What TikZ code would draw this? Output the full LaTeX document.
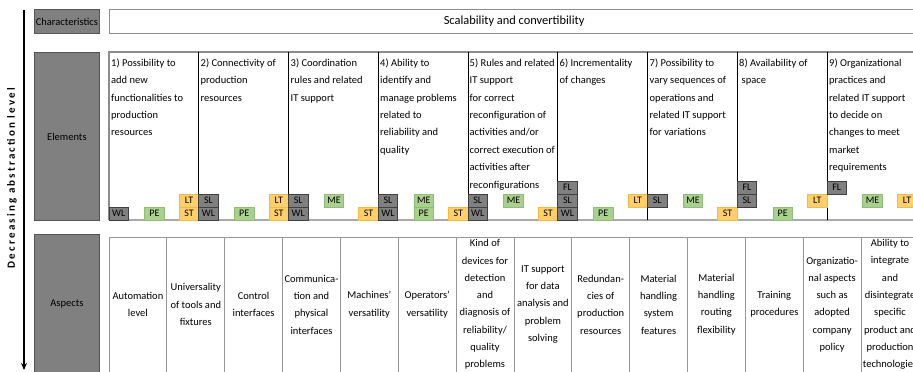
\documentclass[tikz,border=0pt]{standalone}
\usepackage{fontspec}
\setmainfont{Carlito}
\usetikzlibrary{arrows.meta}

\definecolor{lblfill}{RGB}{128,128,128}
\definecolor{lbledge}{RGB}{85,85,85}
\definecolor{boxedge}{RGB}{140,140,140}
\definecolor{gridgray}{RGB}{150,150,150}
\definecolor{basegray}{RGB}{170,170,170}
\definecolor{gfill}{RGB}{128,128,128}
\definecolor{gedge}{RGB}{64,64,64}
\definecolor{ofill}{RGB}{255,208,105}
\definecolor{oedge}{RGB}{245,185,70}
\definecolor{pfill}{RGB}{169,208,142}
\definecolor{pedge}{RGB}{140,190,115}

\tikzset{
  lbl/.style={draw=lbledge, fill=lblfill, line width=0.8pt, inner sep=0pt,
    anchor=north west, minimum width=65pt, font=\fontsize{10.5}{12}\selectfont},
  elem/.style={anchor=north west, align=left, inner sep=0pt,
    font=\fontsize{10.5}{17.4}\selectfont},
  asp/.style={align=center, inner sep=0pt, font=\fontsize{10.5}{17.3}\selectfont},
  badge/.style={draw, line width=0.6pt, minimum width=19.5pt, minimum height=13pt,
    inner sep=0pt, font=\fontsize{10}{10}\selectfont},
  gbadge/.style={badge, fill=gfill, draw=gedge},
  obadge/.style={badge, fill=ofill, draw=oedge},
  pbadge/.style={badge, fill=pfill, draw=pedge},
}

\begin{document}
\begin{tikzpicture}[x=1pt,y=-1pt]
  \useasboundingbox (0,0) rectangle (913,372);
  \clip (0,0) rectangle (913,372);

  % abstraction arrow
  \coordinate (T) at (24,10);
  \coordinate (B) at (24,370);
  \draw[line width=1.4pt, -{Stealth[length=7pt,width=6pt]}] (T) -- (B);
  \node[rotate=90, font=\bfseries\fontsize{11}{12}\selectfont\addfontfeature{LetterSpace=20}] (D) at (12,178) {Decreasing abstraction level};

  % level labels
  \node[lbl, minimum height=24pt] (C) at (34,9) {Characteristics};
  \node[lbl, minimum height=168pt] (E) at (34,52) {Elements};
  \node[lbl, minimum height=140pt] (A) at (34,234) {Aspects};

  % characteristics
  \node[draw=boxedge, line width=1.2pt, anchor=north west, minimum width=809pt, minimum height=24pt,
    font=\fontsize{12.4}{14}\selectfont] (S) at (109,9) {Scalability and convertibility};

  % elements frame
  \draw[boxedge, line width=1.2pt] (918,52) -- (109,52) -- (109,220);
  \draw[basegray, line width=1.6pt] (109,220) -- (918,220);
  \draw[black, line width=0.8pt] (198.75,52) -- (198.75,220);
  \draw[black, line width=0.8pt] (288.5,52) -- (288.5,220);
  \draw[black, line width=0.8pt] (378.25,52) -- (378.25,220);
  \draw[black, line width=0.8pt] (468,52) -- (468,220);
  \draw[black, line width=0.8pt] (557.75,52) -- (557.75,220);
  \draw[black, line width=0.8pt] (647.5,52) -- (647.5,220);
  \draw[black, line width=0.8pt] (737.25,52) -- (737.25,220);
  \draw[black, line width=0.8pt] (827,52) -- (827,220);

  \node[elem] (E1) at (111,58.5) {1) Possibility to\\add new\\functionalities to\\production\\resources};
  \node[elem] (E2) at (200.5,58.5) {2) Connectivity of\\production\\resources};
  \node[elem] (E3) at (290.5,58.5) {3) Coordination\\rules and related\\IT support};
  \node[elem] (E4) at (380,58.5) {4) Ability to\\identify and\\manage problems\\related to\\reliability and\\quality};
  \node[elem] (E5) at (469.5,58.5) {5) Rules and related\\IT support\\for correct\\reconfiguration of\\activities and/or\\correct execution of\\activities after\\reconfigurations};
  \node[elem] (E6) at (559.5,58.5) {6) Incrementality\\of changes};
  \node[elem] (E7) at (649.5,58.5) {7) Possibility to\\vary sequences of\\operations and\\related IT support\\for variations};
  \node[elem] (E8) at (739,58.5) {8) Availability of\\\hspace{2.5pt}space};
  \node[elem] (E9) at (829,58.5) {9) Organizational\\practices and\\related IT support\\to decide on\\changes to meet\\market\\requirements};

  % badges
  \node[gbadge] (W1) at (118.75,213.5) {WL};
  \node[pbadge] (P1) at (154.5,213.5) {PE};
  \node[obadge] (T1) at (189,213.5) {ST};
  \node[obadge] (L1) at (189,200.5) {LT};

  \node[gbadge] (W2) at (208.5,213.5) {WL};
  \node[gbadge] (S2) at (208.5,200.5) {SL};
  \node[pbadge] (P2) at (244.25,213.5) {PE};
  \node[obadge] (T2) at (278.75,213.5) {ST};
  \node[obadge] (L2) at (278.75,200.5) {LT};

  \node[gbadge] (W3) at (298.25,213.5) {WL};
  \node[gbadge] (S3) at (298.25,200.5) {SL};
  \node[pbadge] (M3) at (334,200.5) {ME};
  \node[obadge] (T3) at (368.5,213.5) {ST};

  \node[gbadge] (W4) at (388,213.5) {WL};
  \node[gbadge] (S4) at (388,200.5) {SL};
  \node[pbadge] (P4) at (423.75,213.5) {PE};
  \node[pbadge] (M4) at (423.75,200.5) {ME};
  \node[obadge] (T4) at (458.25,213.5) {ST};

  \node[gbadge] (W5) at (477.75,213.5) {WL};
  \node[gbadge] (S5) at (477.75,200.5) {SL};
  \node[pbadge] (M5) at (513.5,200.5) {ME};
  \node[obadge] (T5) at (548,213.5) {ST};

  \node[gbadge] (W6) at (567.5,213.5) {WL};
  \node[gbadge] (S6) at (567.5,200.5) {SL};
  \node[gbadge] (F6) at (567.5,187.5) {FL};
  \node[pbadge] (P6) at (603.25,213.5) {PE};
  \node[obadge] (L6) at (637.75,200.5) {LT};

  \node[gbadge] (S7) at (657.25,200.5) {SL};
  \node[pbadge] (M7) at (693,200.5) {ME};
  \node[obadge] (T7) at (727.5,213.5) {ST};

  \node[gbadge] (S8) at (747,200.5) {SL};
  \node[gbadge] (F8) at (747,187.5) {FL};
  \node[pbadge] (P8) at (782.75,213.5) {PE};
  \node[obadge] (L8) at (817.25,200.5) {LT};

  \node[gbadge] (F9) at (836.75,187.5) {FL};
  \node[pbadge] (M9) at (872.5,200.5) {ME};
  \node[obadge] (L9) at (907,200.5) {LT};

  % aspects grid
  \draw[gridgray, line width=0.8pt] (918,237) -- (109,237) -- (109,380);
  \draw[gridgray, line width=0.8pt] (166.85,237) -- (166.85,380);
  \draw[gridgray, line width=0.8pt] (224.7,237) -- (224.7,380);
  \draw[gridgray, line width=0.8pt] (282.55,237) -- (282.55,380);
  \draw[gridgray, line width=0.8pt] (340.4,237) -- (340.4,380);
  \draw[gridgray, line width=0.8pt] (398.25,237) -- (398.25,380);
  \draw[gridgray, line width=0.8pt] (456.1,237) -- (456.1,380);
  \draw[gridgray, line width=0.8pt] (513.95,237) -- (513.95,380);
  \draw[gridgray, line width=0.8pt] (571.8,237) -- (571.8,380);
  \draw[gridgray, line width=0.8pt] (629.65,237) -- (629.65,380);
  \draw[gridgray, line width=0.8pt] (687.5,237) -- (687.5,380);
  \draw[gridgray, line width=0.8pt] (745.35,237) -- (745.35,380);
  \draw[gridgray, line width=0.8pt] (803.2,237) -- (803.2,380);
  \draw[gridgray, line width=0.8pt] (861.05,237) -- (861.05,380);

  \node[asp] (A1) at (137.9,304.5) {Automation\\level};
  \node[asp] (A2) at (195.8,304.5) {Universality\\of tools and\\fixtures};
  \node[asp] (A3) at (253.6,304.5) {Control\\interfaces};
  \node[asp] (A4) at (311.5,304.5) {Communica-\\tion and\\physical\\interfaces};
  \node[asp] (A5) at (369.3,304.5) {Machines'\\versatility};
  \node[asp] (A6) at (427.2,304.5) {Operators'\\versatility};
  \node[asp] (A7) at (485.0,304.5) {Kind of\\devices for\\detection\\and\\diagnosis of\\reliability/\\quality\\problems};
  \node[asp] (A8) at (542.9,304.5) {IT support\\for data\\analysis and\\problem\\solving};
  \node[asp] (A9) at (600.7,304.5) {Redundan-\\cies of\\production\\resources};
  \node[asp] (A10) at (658.6,304.5) {Material\\handling\\system\\features};
  \node[asp] (A11) at (716.4,304.5) {Material\\handling\\routing\\flexibility};
  \node[asp] (A12) at (774.3,304.5) {Training\\procedures};
  \node[asp] (A13) at (832.1,304.5) {Organizatio-\\nal aspects\\such as\\adopted\\company\\policy};
  \node[asp] (A14) at (890.0,304.5) {Ability to\\integrate\\and\\disintegrate\\specific\\product and\\production\\technologies};
\end{tikzpicture}
\end{document}
